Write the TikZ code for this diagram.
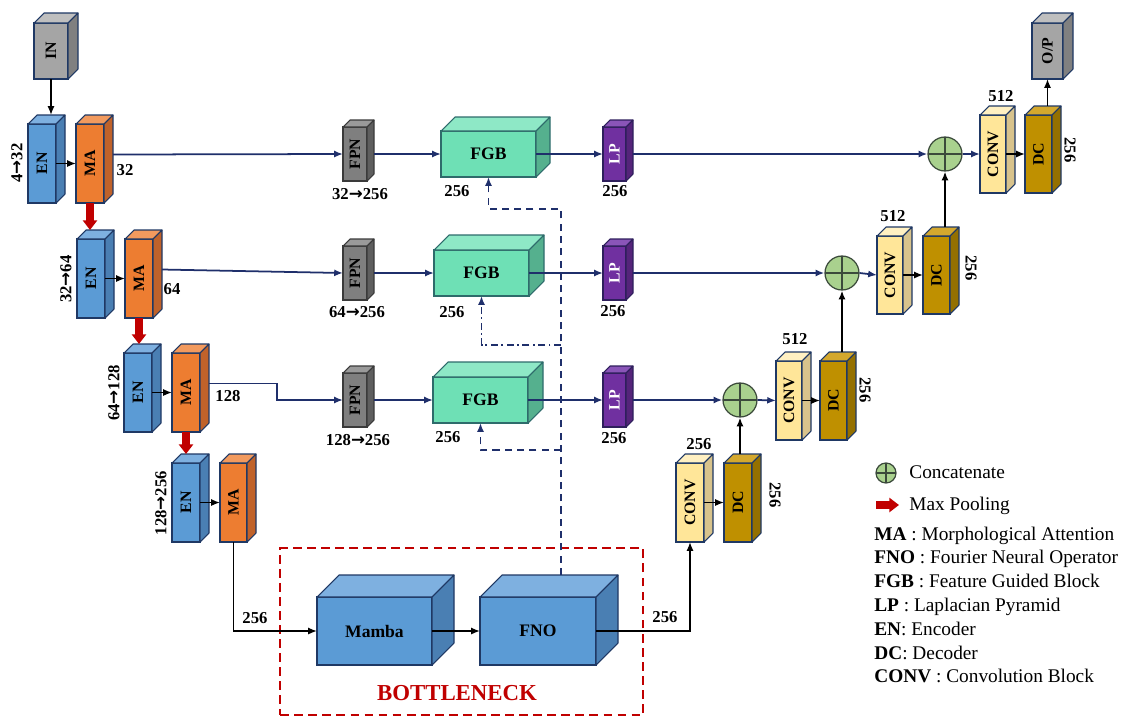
\documentclass[tikz,border=0pt]{standalone}
\usepackage{fontspec}
\setmainfont{Liberation Serif}
\newfontfamily\arrowfont{DejaVu Sans}
\usepackage{xcolor}
\usepackage{tikz}
\usetikzlibrary{arrows.meta, positioning, calc}
\definecolor{grayfront}{HTML}{A5A5A5}
\definecolor{graytop}{HTML}{BFBFBF}
\definecolor{grayside}{HTML}{808080}
\definecolor{grayline}{HTML}{1F3864}
\definecolor{enfront}{HTML}{5B9BD5}
\definecolor{entop}{HTML}{7EB0E0}
\definecolor{enside}{HTML}{4A7FB3}
\definecolor{enline}{HTML}{1F3864}
\definecolor{mafront}{HTML}{ED7D31}
\definecolor{matop}{HTML}{F29A5E}
\definecolor{maside}{HTML}{C0622A}
\definecolor{maline}{HTML}{1F3864}
\definecolor{fpnfront}{HTML}{7F7F7F}
\definecolor{fpntop}{HTML}{9A9A9A}
\definecolor{fpnside}{HTML}{5E5E5E}
\definecolor{fpnline}{HTML}{3A3A3A}
\definecolor{fgbfront}{HTML}{6EE0B5}
\definecolor{fgbtop}{HTML}{8EE8C6}
\definecolor{fgbside}{HTML}{55B08E}
\definecolor{fgbline}{HTML}{2E6B6B}
\definecolor{lpfront}{HTML}{7030A0}
\definecolor{lptop}{HTML}{8A55B8}
\definecolor{lpside}{HTML}{55247A}
\definecolor{lpline}{HTML}{2E1F5C}
\definecolor{convfront}{HTML}{FFE699}
\definecolor{convtop}{HTML}{FFF0C2}
\definecolor{convside}{HTML}{D8C38C}
\definecolor{convline}{HTML}{1F3864}
\definecolor{dcfront}{HTML}{BF9000}
\definecolor{dctop}{HTML}{D4A82E}
\definecolor{dcside}{HTML}{947000}
\definecolor{dcline}{HTML}{1F3864}
\definecolor{catfill}{HTML}{A9D18E}
\definecolor{catline}{HTML}{3B4A3B}
\definecolor{poolred}{HTML}{C00000}
\definecolor{navy}{HTML}{1F2F6B}
\newcommand{\ra}{{\arrowfont\bfseries →}}
\tikzstyle{blockbox} = [rectangle, anchor=north west, inner sep=0pt, outer sep=0pt, line width=0.6pt,
  font=\fontsize{9}{10}\selectfont\bfseries]
\tikzstyle{bigtext} = [font=\fontsize{10}{11}\selectfont\bfseries]
\tikzstyle{faceline} = [line width=0.6pt, line join=round]
\tikzstyle{dimtext} = [font=\fontsize{9.5}{11}\selectfont\bfseries, inner sep=0pt]
\tikzstyle{keytext} = [font=\fontsize{11}{13}\selectfont, inner sep=0pt, anchor=base west]
\tikzstyle{link} = [line width=0.9pt, -{Latex[length=5pt,width=4pt]}]
\tikzstyle{skip} = [navy, line width=1pt, -{Latex[length=5pt,width=4pt]}]
\tikzstyle{guide} = [skip, dash pattern=on 4pt off 3pt]
\tikzstyle{guidedot} = [skip, dash pattern=on 4pt off 2pt on 1pt off 2pt]
\tikzstyle{pool} = [poolred, line width=4.5pt, -{Triangle[length=5.5pt,width=8pt]}]
\tikzstyle{catnode} = [circle, draw=catline, fill=catfill, line width=0.7pt, minimum size=0.68cm, inner sep=0pt,
  path picture={\draw[catline, line width=0.7pt] (path picture bounding box.north) -- (path picture bounding box.south)
  (path picture bounding box.west) -- (path picture bounding box.east);}]
\tikzstyle{neckbox} = [rectangle, draw=poolred, line width=1.4pt, dash pattern=on 5pt off 3pt, anchor=north west, inner sep=0pt]
\tikzstyle{necktext} = [font=\fontsize{13}{15}\selectfont\bfseries, text=poolred]
% name, kind, corner, width, height, depth, text, options
\newcommand{\blockbox}[8]{%
  \node[blockbox, draw=#2line, fill=#2front, minimum width=#4*0.02cm, minimum height=#5*0.02cm, #8] (#1) at (#3) {#7};
  \filldraw[faceline, draw=#2line, fill=#2top] (#1.north west) -- ++(#6,-#6) -- ([shift={(#6,-#6)}]#1.north east) -- (#1.north east) -- cycle;
  \filldraw[faceline, draw=#2line, fill=#2side] (#1.north east) -- ++(#6,-#6) -- ([shift={(#6,-#6)}]#1.south east) -- (#1.south east) -- cycle;
}

\begin{document}
\begin{tikzpicture}[x=0.02cm, y=-0.02cm]
  \useasboundingbox (0,0) rectangle (1130,718);

  % === BOTTLENECK FRAME ===
  \node (neck) [neckbox, minimum width=363*0.02cm, minimum height=167*0.02cm] at (279,547) {};
  \node (necklabel) [necktext] at (457,693) {BOTTLENECK};

  % === ENCODER ===
  \blockbox{inp}{gray}{34,23}{34}{56}{10}{\rotatebox{90}{IN}}{}
  \blockbox{en1}{en}{28,124}{28}{79}{9}{\rotatebox{90}{EN}}{}
  \blockbox{ma1}{ma}{76,124}{28}{79}{9}{\rotatebox{90}{MA}}{}
  \blockbox{en2}{en}{77,239}{28}{79}{9}{\rotatebox{90}{EN}}{}
  \blockbox{ma2}{ma}{125,239}{28}{79}{9}{\rotatebox{90}{MA}}{}
  \blockbox{en3}{en}{124,353}{28}{79}{9}{\rotatebox{90}{EN}}{}
  \blockbox{ma3}{ma}{172,353}{28}{79}{9}{\rotatebox{90}{MA}}{}
  \blockbox{en4}{en}{172,463}{28}{79}{9}{\rotatebox{90}{EN}}{}
  \blockbox{ma4}{ma}{220,463}{27}{79}{9}{\rotatebox{90}{MA}}{}

  \node (dim1) [dimtext, rotate=90] at (17,163) {4\ra32};
  \node (dim2) [dimtext, rotate=90] at (66,279) {32\ra64};
  \node (dim3) [dimtext, rotate=90] at (114,393) {64\ra128};
  \node (dim4) [dimtext, rotate=90] at (161,503) {128\ra256};
  \node (ch1) [dimtext] at (125,170) {32};
  \node (ch2) [dimtext] at (172,289) {64};
  \node (ch3) [dimtext] at (228,396) {128};

  % === SKIP PATH ===
  \blockbox{fpn1}{fpn}{343,127}{24}{54}{7}{\rotatebox{90}{FPN}}{}
  \blockbox{fpn2}{fpn}{343,246}{24}{54}{7}{\rotatebox{90}{FPN}}{}
  \blockbox{fpn3}{fpn}{343,373}{24}{54}{7}{\rotatebox{90}{FPN}}{}
  \blockbox{fgb1}{fgb}{441,131}{95}{46}{14}{FGB}{bigtext}
  \blockbox{fgb2}{fgb}{434,250}{95}{46}{15}{FGB}{bigtext}
  \blockbox{fgb3}{fgb}{433,377}{95}{46}{15}{FGB}{bigtext}
  \blockbox{lp1}{lp}{603,127}{23}{54}{7}{\rotatebox{90}{LP}}{text=white}
  \blockbox{lp2}{lp}{603,246}{23}{54}{7}{\rotatebox{90}{LP}}{text=white}
  \blockbox{lp3}{lp}{603,373}{23}{54}{7}{\rotatebox{90}{LP}}{text=white}

  \node (fpnlab1) [dimtext] at (360,194) {32\ra256};
  \node (fpnlab2) [dimtext] at (357,312) {64\ra256};
  \node (fpnlab3) [dimtext] at (358,440) {128\ra256};
  \node (fgblab1) [dimtext] at (457,191) {256};
  \node (fgblab2) [dimtext] at (452,312) {256};
  \node (fgblab3) [dimtext] at (448,437) {256};
  \node (lplab1) [dimtext] at (615,191) {256};
  \node (lplab2) [dimtext] at (613,311) {256};
  \node (lplab3) [dimtext] at (614,438) {256};

  % === BOTTLENECK ===
  \blockbox{mamba}{en}{317,597}{115}{68}{22}{Mamba}{bigtext}
  \blockbox{fno}{en}{480,597}{116}{68}{22}{FNO}{bigtext}
  \node (inlab) [dimtext] at (255,618) {256};
  \node (outlab) [dimtext] at (665,617) {256};

  % === DECODER ===
  \blockbox{conv4}{conv}{676,463}{28}{79}{9}{\rotatebox{90}{CONV}}{}
  \blockbox{dc4}{dc}{724,463}{28}{79}{9}{\rotatebox{90}{DC}}{}
  \blockbox{conv3}{conv}{776,361}{26}{79}{9}{\rotatebox{90}{CONV}}{}
  \blockbox{dc3}{dc}{820,361}{27}{79}{9}{\rotatebox{90}{DC}}{}
  \blockbox{conv2}{conv}{877,236}{26}{78}{9}{\rotatebox{90}{CONV}}{}
  \blockbox{dc2}{dc}{923,236}{27}{78}{9}{\rotatebox{90}{DC}}{}
  \blockbox{conv1}{conv}{980,115}{26}{78}{9}{\rotatebox{90}{CONV}}{}
  \blockbox{dc1}{dc}{1025,115}{27}{78}{9}{\rotatebox{90}{DC}}{}
  \blockbox{outp}{gray}{1032,23}{31}{56}{10}{\rotatebox{90}{O/P}}{}

  \node (cat1) [catnode] at (945,154) {};
  \node (cat2) [catnode] at (842,273) {};
  \node (cat3) [catnode] at (740,400) {};

  \node (convlab4) [dimtext] at (699,444) {256};
  \node (convlab3) [dimtext] at (795,339) {512};
  \node (convlab2) [dimtext] at (893,216) {512};
  \node (convlab1) [dimtext] at (1001,96) {512};
  \node (dclab4) [dimtext, rotate=-90] at (775,495) {256};
  \node (dclab3) [dimtext, rotate=-90] at (865,390) {256};
  \node (dclab2) [dimtext, rotate=-90] at (971,268) {256};
  \node (dclab1) [dimtext, rotate=-90] at (1070,150) {256};

  % === ARROWS ===
  \draw[link] (inp.south) -- ($(inp.south |- en1.north)+(0,-9)$);
  \draw[link] (en1.east) -- (ma1.west);
  \draw[link] (en2.east) -- (ma2.west);
  \draw[link] (en3.east) -- (ma3.west);
  \draw[link] (en4.east) -- (ma4.west);
  \draw[pool] (ma1.south) -- ($(ma1.south |- en2.north)+(0,-9)$);
  \draw[pool] (ma2.south) -- ($(ma2.south |- en3.north)+(0,-9)$);
  \draw[pool] (ma3.south) -- ($(ma3.south |- en4.north)+(0,-9)$);

  \coordinate (jog3) at (277,392);
  \draw[skip] ($(ma1.east)+(9,-9)$) -- (fpn1.west);
  \draw[skip] ($(ma2.east)+(9,-9)$) -- (fpn2.west);
  \draw[skip] ($(ma3.east)+(9,-9)$) -| (jog3) |- (fpn3.west);
  \draw[skip] ($(fpn1.east)+(7,0)$) -- (fgb1.west);
  \draw[skip] ($(fpn2.east)+(7,0)$) -- (fgb2.west);
  \draw[skip] ($(fpn3.east)+(7,0)$) -- (fgb3.west);
  \draw[skip] (fgb1.east) -- (lp1.west);
  \draw[skip] (fgb2.east) -- (lp2.west);
  \draw[skip] (fgb3.east) -- (lp3.west);
  \draw[skip] ($(lp1.east)+(7,0)$) -- (cat1.west);
  \draw[skip] ($(lp2.east)+(7,0)$) -- (cat2.west);
  \draw[skip] ($(lp3.east)+(7,0)$) -- (cat3.west);
  \draw[skip] (cat1.east) -- (conv1.west);
  \draw[skip] (cat2.east) -- (conv2.west);
  \draw[skip] (cat3.east) -- (conv3.west);

  \draw[link] (ma4.south) |- (mamba.west);
  \draw[link] (mamba.east) -- (fno.west);
  \draw[link] (fno.east) -| (conv4.south);

  \coordinate (spine1) at (561,209);
  \coordinate (spine2) at (561,345);
  \coordinate (spine3) at (561,450);
  \draw[guide] ($(fno.north -| spine1)+(0,-22)$) -- (spine1) -| (fgb1.south);
  \draw[guidedot] (spine2) -| (fgb2.south);
  \draw[guide] (spine3) -| (fgb3.south);

  \draw[link] (conv4.east) -- (dc4.west);
  \draw[link] (conv3.east) -- (dc3.west);
  \draw[link] (conv2.east) -- (dc2.west);
  \draw[link] (conv1.east) -- (dc1.west);
  \draw[link] ($(dc4.north -| cat3)+(0,-9)$) -- (cat3.south);
  \draw[link] ($(dc3.north -| cat2)+(0,-9)$) -- (cat2.south);
  \draw[link] ($(dc2.north -| cat1)+(0,-9)$) -- (cat1.south);
  \draw[link] ($(dc1.north -| outp.south)+(0,-9)$) -- (outp.south);

  % === LEGEND ===
  \node (keycat) [catnode, minimum size=0.4cm] at (886,473) {};
  \node (keycattext) [keytext] at (909,478) {Concatenate};
  \coordinate (keypoolA) at (876,505);
  \coordinate (keypoolB) at (899,505);
  \draw[pool] (keypoolA) -- (keypoolB);
  \node (keypooltext) [keytext] at (909,510) {Max Pooling};
  \node (keyma) [keytext] at (874,540) {\textbf{MA} : Morphological Attention};
  \node (keyfno) [keytext] at (874,563) {\textbf{FNO} : Fourier Neural Operator};
  \node (keyfgb) [keytext] at (874,587) {\textbf{FGB} : Feature Guided Block};
  \node (keylp) [keytext] at (874,611) {\textbf{LP} : Laplacian Pyramid};
  \node (keyen) [keytext] at (874,635) {\textbf{EN}: Encoder};
  \node (keydc) [keytext] at (874,659) {\textbf{DC}: Decoder};
  \node (keyconv) [keytext] at (874,682) {\textbf{CONV} : Convolution Block};

\end{tikzpicture}
\end{document}
